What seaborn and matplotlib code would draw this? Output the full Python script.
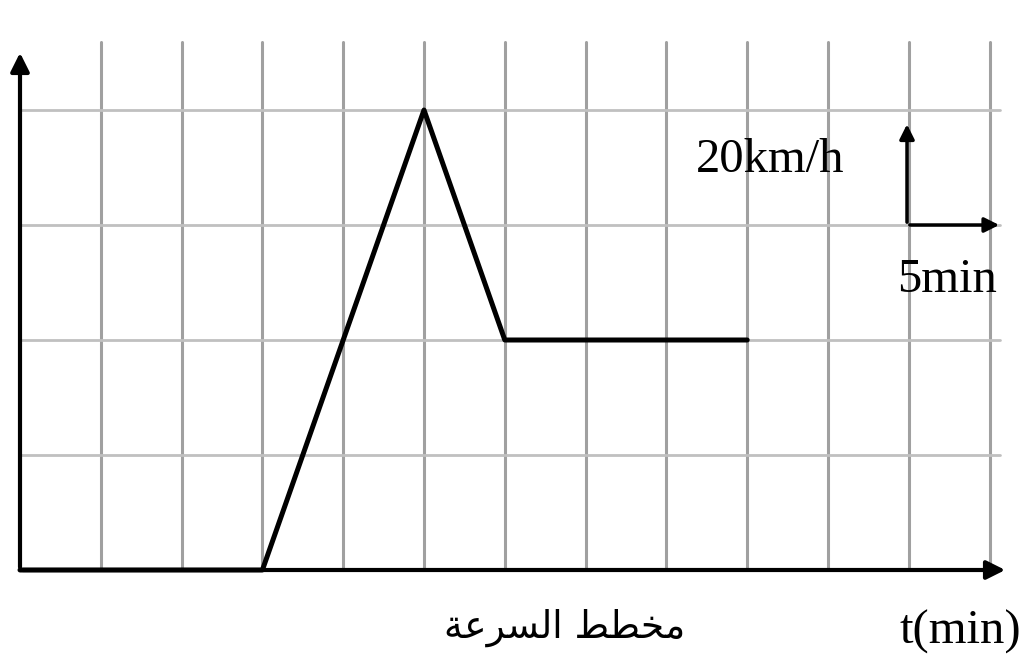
import matplotlib
matplotlib.use("Agg")
import matplotlib.pyplot as plt
import seaborn as sns
import pandas as pd

sns.set_style("white")
plt.rcParams["font.family"] = ["DejaVu Sans"]

# speed chart: time (min) vs speed (km/h)
time_min = [0, 15, 25, 30, 45]
speed_kmh = [0, 0, 80, 40, 40]

# grid steps: 5 min horizontally, 20 km/h vertically
x_grid = [5, 10, 15, 20, 25, 30, 35, 40, 45, 50, 55, 60]
y_grid = [20, 40, 60, 80]

# "مخطط السرعة" in presentation forms, visual order (no bidi shaping in matplotlib)
title_ar = "\uFE94\uFECB\uFEAE\uFEB4\uFEDF\uFE8D \uFEC2\uFEC4\uFEA8\uFEE3"

df = pd.DataFrame({"t": time_min, "v": speed_kmh})

fig = plt.figure(figsize=(10.34, 6.62), dpi=100)
ax = fig.add_axes([0, 0, 1, 1])

px_x = 80.8 / 5     # pixels per minute
px_y = 115 / 20     # pixels per km/h
ax.set_xlim(-20 / px_x, (1034 - 20) / px_x)
ax.set_ylim(-(662 - 570) / px_y, 570 / px_y)

# grid
top = (570 - 42) / px_y
right = (1000 - 20) / px_x
for gx in x_grid:
    ax.plot([gx, gx], [0, top], color="#a0a0a0", lw=2.2, zorder=1)
for gy in y_grid:
    ax.plot([0, right], [gy, gy], color="#c0c0c0", lw=2.0, zorder=1)

# axes arrows
ax.annotate("", xy=(0, (570 - 50) / px_y), xytext=(0, 0),
            arrowprops=dict(arrowstyle="-|>", color="black", lw=3, mutation_scale=28))
ax.annotate("", xy=((1008 - 20) / px_x, 0), xytext=(0, 0),
            arrowprops=dict(arrowstyle="-|>", color="black", lw=3, mutation_scale=28))

# data line
sns.lineplot(data=df, x="t", y="v", ax=ax, color="black", lw=3.6, zorder=5)

# scale indicator
ox = (907 - 20) / px_x
oy = 60
ax.annotate("", xy=(ox, 80 - 2), xytext=(ox, oy),
            arrowprops=dict(arrowstyle="-|>", color="black", lw=2.5, mutation_scale=22))
ax.annotate("", xy=((1002 - 20) / px_x, oy), xytext=(ox, oy),
            arrowprops=dict(arrowstyle="-|>", color="black", lw=2.5, mutation_scale=22))

ax.text((770 - 20) / px_x, (570 - 160) / px_y, "20km/h", family="Liberation Serif",
        fontsize=35, ha="center", va="center", color="black")
ax.text((947 - 20) / px_x, (570 - 280) / px_y, "5min", family="Liberation Serif",
        fontsize=35, ha="center", va="center", color="black")
ax.text((960 - 20) / px_x, (570 - 632) / px_y, "t(min)", family="Liberation Serif",
        fontsize=35, ha="center", va="center", color="black")
ax.text((565 - 20) / px_x, (570 - 628) / px_y, title_ar, family="DejaVu Sans",
        fontsize=27, ha="center", va="center", color="black")

ax.set_xlabel("")
ax.set_ylabel("")
ax.axis("off")

fig.savefig("out.png", dpi=100)
